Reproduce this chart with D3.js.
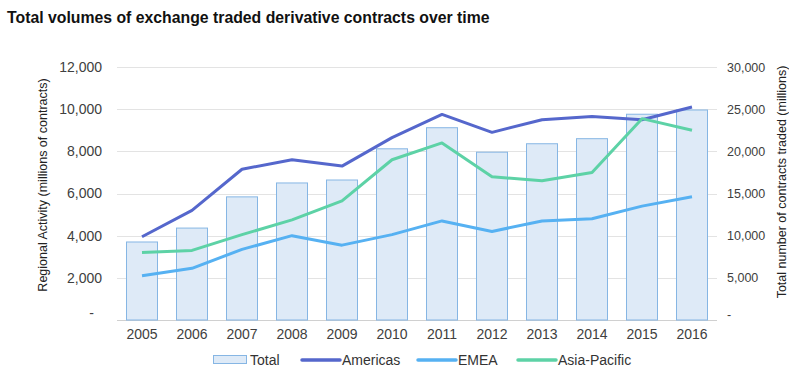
<!DOCTYPE html>
<html lang="en">
<head>
    <meta charset="UTF-8">
    <title>Exchange traded derivatives</title>
    <style>
        body {
            margin: 0;
            padding: 0;
            background: #fff;
        }
        svg {
            display: block;
            font-family: "Liberation Sans", Arial, sans-serif;
        }
    </style>
</head>
<body>
    <script src="https://d3js.org/d3.v7.min.js"></script>
    <script>
        const years = ['2005', '2006', '2007', '2008', '2009', '2010', '2011', '2012', '2013', '2014', '2015', '2016']
        const total = [9250, 10900, 14600, 16250, 16600, 20300, 22800, 19900, 20900, 21500, 24400, 24900]
        const americas = [3950, 5200, 7150, 7600, 7300, 8650, 9750, 8900, 9500, 9650, 9500, 10100]
        const emea = [2100, 2450, 3350, 4000, 3550, 4050, 4700, 4200, 4700, 4800, 5400, 5850]
        const asiaPacific = [3200, 3300, 4050, 4750, 5650, 7600, 8400, 6800, 6600, 7000, 9550, 9000]
        const leftTicks = [0, 2000, 4000, 6000, 8000, 10000, 12000]
        const rightTicks = [0, 5000, 10000, 15000, 20000, 25000, 30000]

        const width = 789
        const height = 368
        const plot = { left: 117, right: 717, top: 67, bottom: 320 }
        const font = '"Liberation Sans", Arial, sans-serif'

        const fmt = v => v === 0 ? '-' : d3.format(',')(v)

        const svg = d3.select('body').append('svg')
            .attr('width', width)
            .attr('height', height)

        svg.append('text')
            .attr('x', 7)
            .attr('y', 23)
            .attr('font-size', 15.8)
            .attr('font-weight', 'bold')
            .attr('fill', '#111')
            .text('Total volumes of exchange traded derivative contracts over time')

        const x = d3.scaleBand()
            .domain(years)
            .range([plot.left, plot.right])
            .paddingInner(0.38)
            .paddingOuter(0.19)

        const yLeft = d3.scaleLinear().domain([0, 12000]).range([plot.bottom, plot.top])
        const yRight = d3.scaleLinear().domain([0, 30000]).range([plot.bottom, plot.top])

        // gridlines
        svg.append('g')
            .selectAll('line')
            .data(leftTicks)
            .join('line')
            .attr('x1', plot.left)
            .attr('x2', plot.right)
            .attr('y1', d => Math.round(yLeft(d)) + 0.5)
            .attr('y2', d => Math.round(yLeft(d)) + 0.5)
            .attr('stroke', d => d === 0 ? '#d0d0d0' : '#e3e3e3')
            .attr('stroke-width', 1)

        // bars
        svg.append('g')
            .selectAll('rect')
            .data(total)
            .join('rect')
            .attr('x', (d, i) => x(years[i]))
            .attr('y', d => yRight(d))
            .attr('width', x.bandwidth())
            .attr('height', d => plot.bottom - yRight(d))
            .attr('fill', '#deeaf7')
            .attr('stroke', '#86b6e4')
            .attr('stroke-width', 1)

        // lines
        const series = [
            { name: 'Americas', values: americas, color: '#5567cc' },
            { name: 'EMEA', values: emea, color: '#56b1f2' },
            { name: 'Asia-Pacific', values: asiaPacific, color: '#5dd2a6' }
        ]

        const line = d3.line()
            .x((d, i) => x(years[i]) + x.bandwidth() / 2)
            .y(d => yLeft(d))

        svg.append('g')
            .selectAll('path')
            .data(series)
            .join('path')
            .attr('d', d => line(d.values))
            .attr('fill', 'none')
            .attr('stroke', d => d.color)
            .attr('stroke-width', 3)
            .attr('stroke-linejoin', 'round')

        // left axis
        const leftAxis = svg.append('g')
            .attr('transform', `translate(${plot.left},0)`)
            .call(d3.axisLeft(yLeft).tickValues(leftTicks).tickFormat(fmt).tickSize(0).tickPadding(15))
        leftAxis.select('.domain').remove()
        leftAxis.selectAll('text')
            .attr('font-size', 14)
            .attr('fill', '#404040')
            .attr('font-family', font)
        leftAxis.selectAll('text').filter(d => d === 0).attr('dx', -8).attr('dy', '-0.2em')

        // right axis
        const rightAxis = svg.append('g')
            .attr('transform', `translate(${plot.right},0)`)
            .call(d3.axisRight(yRight).tickValues(rightTicks).tickFormat(fmt).tickSize(0).tickPadding(10))
        rightAxis.select('.domain').remove()
        rightAxis.selectAll('text')
            .attr('font-size', 12.5)
            .attr('fill', '#404040')
            .attr('font-family', font)
        rightAxis.selectAll('text').filter(d => d === 0).attr('dy', '-0.1em')

        // x axis
        const xAxis = svg.append('g')
            .attr('transform', `translate(0,${plot.bottom})`)
            .call(d3.axisBottom(x).tickSize(0).tickPadding(9))
        xAxis.select('.domain').remove()
        xAxis.selectAll('text')
            .attr('font-size', 14)
            .attr('fill', '#404040')
            .attr('font-family', font)

        // axis titles
        svg.append('text')
            .attr('transform', 'translate(47,185) rotate(-90)')
            .attr('text-anchor', 'middle')
            .attr('font-size', 12.5)
            .attr('fill', '#222')
            .text('Regional Activity (millions of contracts)')

        svg.append('text')
            .attr('transform', 'translate(785.5,182) rotate(-90)')
            .attr('text-anchor', 'middle')
            .attr('font-size', 12.5)
            .attr('fill', '#222')
            .text('Total number of contracts traded (millions)')

        // legend
        const legend = svg.append('g').attr('font-size', 14).attr('fill', '#333')
        const ly = 360
        legend.append('rect')
            .attr('x', 213.5).attr('y', ly - 4.5)
            .attr('width', 33).attr('height', 8)
            .attr('fill', '#deeaf7').attr('stroke', '#86b6e4')
        legend.append('text').attr('x', 250).attr('y', ly + 5).text('Total')

        const legendX = [302, 418, 518]
        series.forEach((s, i) => {
            legend.append('line')
                .attr('x1', legendX[i]).attr('x2', legendX[i] + 38)
                .attr('y1', ly).attr('y2', ly)
                .attr('stroke', s.color).attr('stroke-width', 3.5)
                .attr('stroke-linecap', 'round')
            legend.append('text')
                .attr('x', legendX[i] + 40).attr('y', ly + 5)
                .text(s.name)
        })
    </script>
</body>
</html>
